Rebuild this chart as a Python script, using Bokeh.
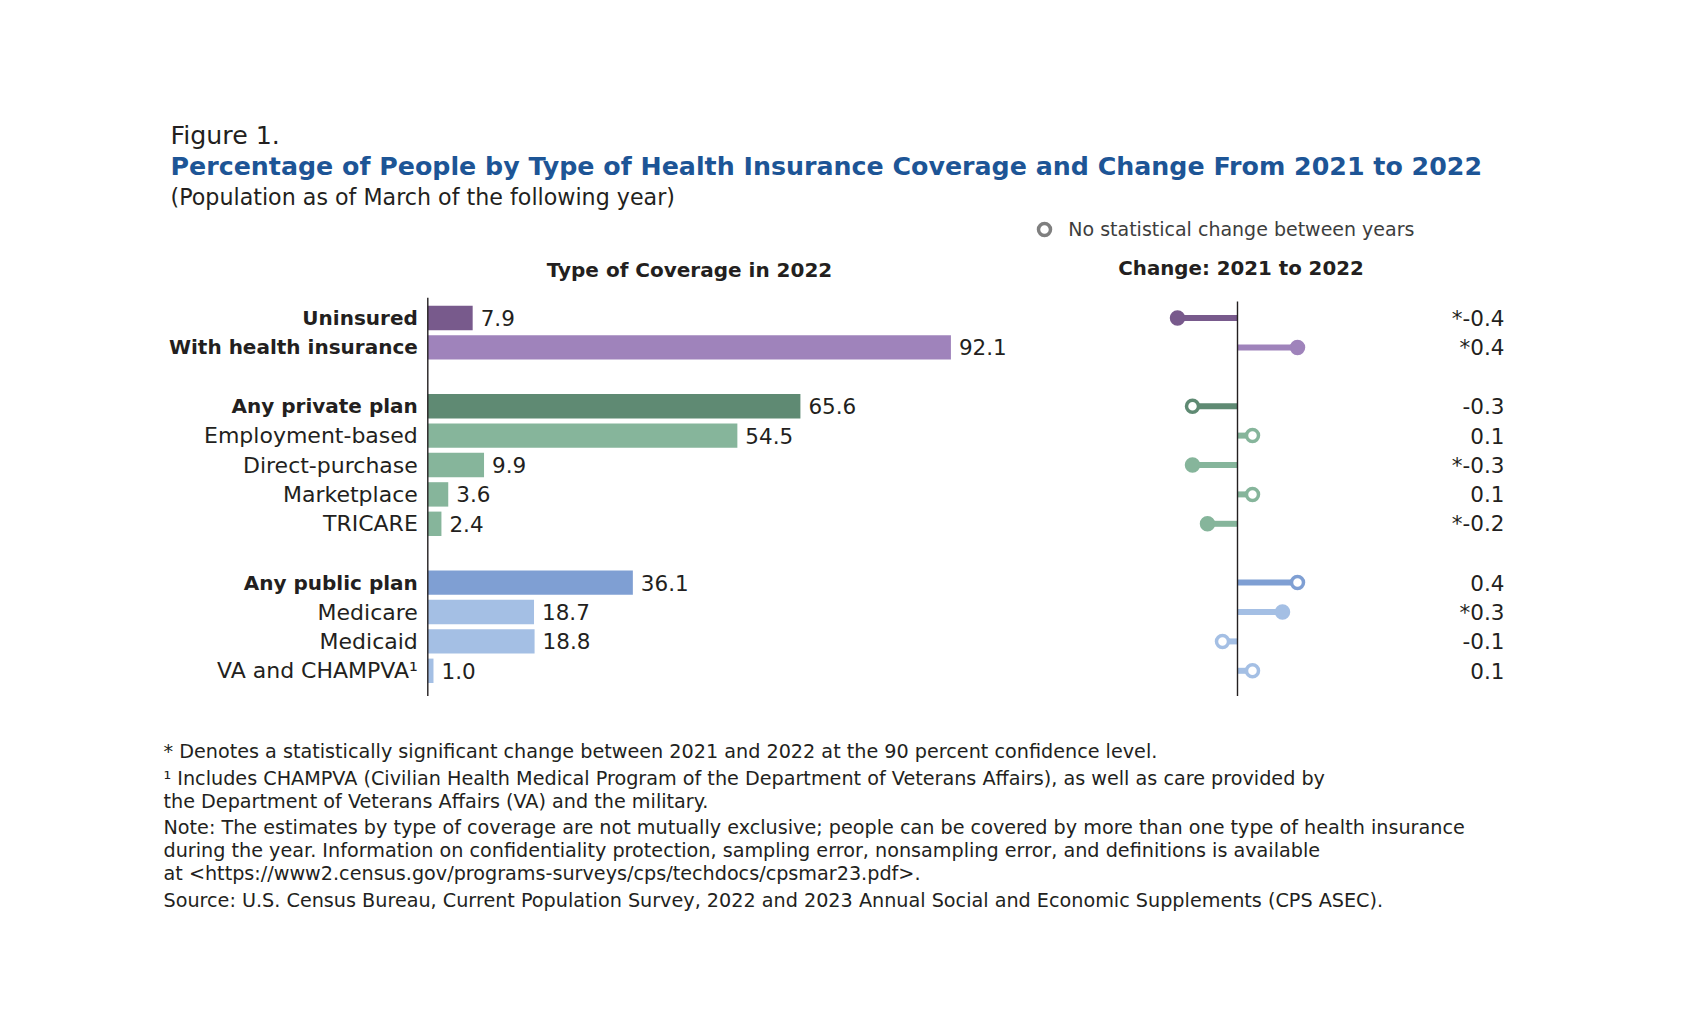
from bokeh.plotting import figure
from bokeh.models import Range1d, Label, ColumnDataSource, Legend, LegendItem
from bokeh.core.properties import value
from bokeh.embed import file_html
from bokeh.resources import INLINE

# ---------------- data ----------------
groups = [
    ["Uninsured", "With health insurance"],
    ["Any private plan", "Employment-based", "Direct-purchase", "Marketplace", "TRICARE"],
    ["Any public plan", "Medicare", "Medicaid", "VA and CHAMPVA\u00b9"],
]
headline = ["Uninsured", "With health insurance", "Any private plan", "Any public plan"]
pct_2022 = [7.9, 92.1, 65.6, 54.5, 9.9, 3.6, 2.4, 36.1, 18.7, 18.8, 1.0]
change_21_22 = [-0.4, 0.4, -0.3, 0.1, -0.3, 0.1, -0.2, 0.4, 0.3, -0.1, 0.1]
significant = [True, True, False, False, True, False, True, False, True, False, False]

title_fig = "Figure 1."
title_main = "Percentage of People by Type of Health Insurance Coverage and Change From 2021 to 2022"
subtitle = "(Population as of March of the following year)"
header_left = "Type of Coverage in 2022"
header_right = "Change: 2021 to 2022"
legend_text = "No statistical change between years"
footnotes = [
    "* Denotes a statistically significant change between 2021 and 2022 at the 90 percent confidence level.",
    "\u00b9 Includes CHAMPVA (Civilian Health Medical Program of the Department of Veterans Affairs), as well as care provided by",
    "the Department of Veterans Affairs (VA) and the military.",
    "Note: The estimates by type of coverage are not mutually exclusive; people can be covered by more than one type of health insurance",
    "during the year. Information on confidentiality protection, sampling error, nonsampling error, and definitions is available",
    "at <https://www2.census.gov/programs-surveys/cps/techdocs/cpsmar23.pdf>.",
    "Source: U.S. Census Bureau, Current Population Survey, 2022 and 2023 Annual Social and Economic Supplements (CPS ASEC).",
]

# ---------------- styles ----------------
FONT = "DejaVu Sans"
TEXT = "#231f20"
BLUE = "#1d5596"
group_colors = [
    ("#785a8c", "#9f83bb"),   # uninsured / with insurance
    ("#5f8a73", "#86b59b"),   # private
    ("#7f9fd3", "#a4bfe4"),   # public
]

# ---------------- layout constants (screen px) ----------------
W, H = 1684, 1013
X0_BAR = 427.3               # screen x of 0 % axis
PX_PCT = 5.68                # px per percentage point
X0_CHG = 1237.0              # screen x of zero change
PX_CHG = 150.0               # px per percentage point of change
Y0_ROW = 317.5               # screen y of first row
PX_ROW = 29.4                # px per row slot


def sy(y):
    return H - y


# derived rows (one empty slot between groups)
categories, rows, colors, bold = [], [], [], []
slot = 0
for gi, g in enumerate(groups):
    for ci, c in enumerate(g):
        categories.append(c)
        rows.append(slot)
        colors.append(group_colors[gi][0] if ci == 0 else group_colors[gi][1])
        bold.append(c in headline)
        slot += 1
    slot += 1

src = ColumnDataSource(dict(
    cat=categories, row=rows, pct=pct_2022, chg=change_21_22, color=colors,
    pct_label=[f"{v:.1f}" for v in pct_2022],
    chg_label=[("*" if s else "") + f"{v:.1f}" for v, s in zip(change_21_22, significant)],
))


def subset(mask):
    d = {k: [v for v, m in zip(vals, mask) if m] for k, vals in src.data.items()}
    return ColumnDataSource(d)


p = figure(width=W, height=H, output_backend="svg", toolbar_location=None, tools="",
           x_range=Range1d(-X0_BAR / PX_PCT, (W - X0_BAR) / PX_PCT),
           y_range=Range1d((H - Y0_ROW) / PX_ROW, -Y0_ROW / PX_ROW),
           x_axis_location=None, y_axis_location=None, min_border=0)
p.extra_x_ranges = {"chg": Range1d(-X0_CHG / PX_CHG, (W - X0_CHG) / PX_CHG)}
p.grid.visible = False
p.outline_line_color = None
p.background_fill_color = "white"
p.border_fill_color = "white"

# bars
p.hbar(y="row", left=0, right="pct", height=0.83, fill_color="color", line_color=None, source=src)
p.segment(x0=0, x1=0, y0=rows[0] - 0.69, y1=rows[-1] + 0.86, line_color=TEXT, line_width=1.4)

# category labels
p.text(x=0, y="row", text="cat", x_offset=-10, text_align="right", text_baseline="middle",
       text_font=value(FONT), text_font_size="20px", text_font_style="bold", text_color=TEXT,
       source=subset(bold))
p.text(x=0, y="row", text="cat", x_offset=-10, text_align="right", text_baseline="middle",
       text_font=value(FONT), text_font_size="22px", text_color=TEXT,
       source=subset([not b for b in bold]))
# value labels
p.text(x="pct", y="row", text="pct_label", x_offset=8, text_align="left", text_baseline="middle",
       text_font=value(FONT), text_font_size="21.5px", text_color=TEXT, source=src)

# change lollipops
p.segment(x0=0, x1="chg", y0="row", y1="row", line_color="color", line_width=6, source=src, x_range_name="chg")
p.segment(x0=0, x1=0, y0=rows[0] - 0.56, y1=rows[-1] + 0.86, line_color=TEXT, line_width=1.4, x_range_name="chg")
p.scatter(x="chg", y="row", marker="circle", size=14, fill_color="color", line_color="color", line_width=1.5,
          source=subset(significant), x_range_name="chg")
p.scatter(x="chg", y="row", marker="circle", size=12, fill_color="white", line_color="color", line_width=3.5,
          source=subset([not s for s in significant]), x_range_name="chg")
p.text(x=(1504 - X0_CHG) / PX_CHG, y="row", text="chg_label", text_align="right", text_baseline="middle",
       text_font=value(FONT), text_font_size="21.5px", text_color=TEXT, source=src, x_range_name="chg")

# legend (key renderer holds one point placed outside the visible ranges)
dummy = p.scatter(x=[-1e6], y=[-1e6], marker="circle", size=12, fill_color="white",
                  line_color="#7f7f7f", line_width=3.5)
legend = Legend(items=[LegendItem(label=legend_text, renderers=[dummy])],
                location=(1044.3 - 15, sy(228.7) - 15), orientation="vertical",
                glyph_width=30, glyph_height=30, label_height=30, label_standoff=9, padding=0, margin=0,
                spacing=0, border_line_color=None, background_fill_alpha=0,
                label_text_font=FONT, label_text_font_size="19px", label_text_color="#3d3d3d",
                label_text_baseline="middle")
p.add_layout(legend)


# titles & headers
def add_label(text, x, y, size, color=TEXT, style="normal", align="left"):
    p.add_layout(Label(x=x, y=sy(y), x_units="screen", y_units="screen", text=text,
                       text_font=FONT, text_font_size=size, text_font_style=style,
                       text_color=color, text_align=align, text_baseline="middle"))


add_label(title_fig, 170, 134.5, "25.3px")
add_label(title_main, 170, 166, "25.3px", color=BLUE, style="bold")
add_label(subtitle, 170, 196, "22.2px")
add_label(header_left, 689, 269, "20px", style="bold", align="center")
add_label(header_right, 1240.5, 268, "19.8px", style="bold", align="center")

foot_y = [751, 778, 801, 827, 850, 873, 899.5]
for t, fy in zip(footnotes, foot_y):
    add_label(t, 163, fy, "19.2px")

open("out.html", "w").write(file_html(p, INLINE))
